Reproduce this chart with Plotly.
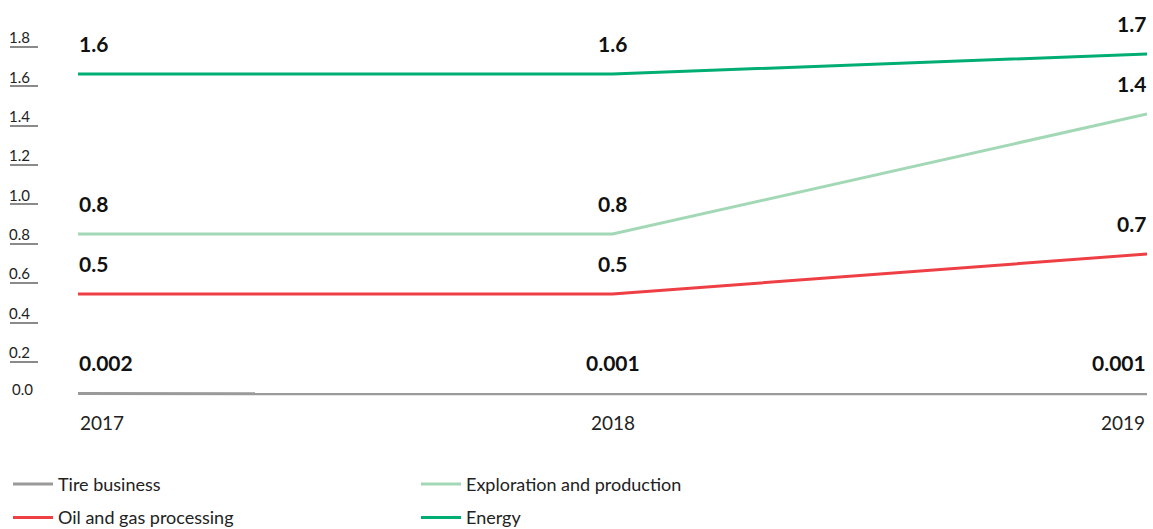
import plotly.graph_objects as go

# Data
years = [2017, 2018, 2019]
tire_business = [0.002, 0.001, 0.001]
exploration_production = [0.8, 0.8, 1.4]
oil_gas_processing = [0.5, 0.5, 0.7]
energy = [1.6, 1.6, 1.7]

tire_labels = ["0.002", "0.001", "0.001"]
ep_labels = ["0.8", "0.8", "1.4"]
oil_labels = ["0.5", "0.5", "0.7"]
energy_labels = ["1.6", "1.6", "1.7"]

y_ticks = [0.2, 0.4, 0.6, 0.8, 1.0, 1.2, 1.4, 1.6, 1.8]
y_tick_text = ["0.2", "0.4", "0.6", "0.8", "1.0", "1.2", "1.4", "1.6", "1.8"]

W, H = 1153, 529
FONT = "Lato"

series = [
    ("Tire business", tire_business, tire_labels, "#9a9a9a", "legend"),
    ("Exploration and production", exploration_production, ep_labels, "#a3d8b6", "legend2"),
    ("Oil and gas processing", oil_gas_processing, oil_labels, "#ee3f44", "legend"),
    ("Energy", energy, energy_labels, "#00ad72", "legend2"),
]

fig = go.Figure()
for name, vals, _, color, leg in series:
    fig.add_trace(go.Scatter(
        x=years, y=vals, name=name, mode="lines",
        line=dict(color=color, width=3),
        legend=leg, legendgroup=name, cliponaxis=False,
    ))

# Value labels above each point
anchors = ["left", "center", "right"]
for name, vals, labels, color, _ in series:
    for xi, yi, txt, anc in zip(years, vals, labels, anchors):
        fig.add_annotation(
            x=xi, y=yi, xref="x", yref="y", text=f"<b>{txt}</b>",
            showarrow=False, xanchor=anc, yanchor="middle", yshift=31,
            xshift=-1 if anc == "left" else (1 if anc == "right" else 0),
            font=dict(family=FONT, size=21, color="#111111"),
        )

# Year labels under the axis
for xi, anc in zip(years, anchors):
    fig.add_annotation(
        x=xi, y=0, xref="x", yref="y", text=str(xi), showarrow=False,
        xanchor=anc, yanchor="middle", yshift=-28,
        font=dict(family=FONT, size=19, color="#222222"),
    )

plot_left, plot_right = 78, 1147
axis_pos = 38 / W

legend_common = dict(
    y=-0.141, xanchor="left", yanchor="top",
    orientation="v", tracegroupgap=7, itemwidth=40,
    font=dict(family=FONT, size=18, color="#222222"),
    bgcolor="rgba(0,0,0,0)",
)

fig.update_layout(
    width=W, height=H,
    margin=dict(l=0, r=0, t=14, b=119, autoexpand=False),
    plot_bgcolor="white", paper_bgcolor="white",
    xaxis=dict(
        domain=[plot_left / W, plot_right / W], range=[2017, 2019],
        showgrid=False, zeroline=False, showticklabels=False, ticks="",
        showline=False,
    ),
    yaxis=dict(
        range=[-0.08, 1.9], anchor="free", position=axis_pos,
        showgrid=False, zeroline=False, showline=False,
        tickvals=[0.0], ticktext=["0.0"], ticks="",
        ticklabelstandoff=5, ticklabelshift=-4,
        tickfont=dict(family=FONT, size=15, color="#222222"),
    ),
    yaxis2=dict(
        overlaying="y", anchor="free", position=axis_pos, side="left",
        range=[-0.0437, 1.967],
        showgrid=False, zeroline=False, showline=False,
        tickvals=y_ticks, ticktext=y_tick_text,
        ticks="outside", ticklen=28, tickwidth=1.5, tickcolor="#8a8a8a",
        ticklabelstandoff=-23, ticklabelshift=-9,
        tickfont=dict(family=FONT, size=15, color="#222222"),
    ),
    legend=dict(x=8 / W, **legend_common),
    legend2=dict(x=416 / W, **legend_common),
)

# Empty trace binds yaxis2 so the labelled scale is drawn
fig.add_trace(go.Scatter(x=[], y=[], yaxis="y2", showlegend=False, hoverinfo="skip"))

fig.write_html("out.html")
